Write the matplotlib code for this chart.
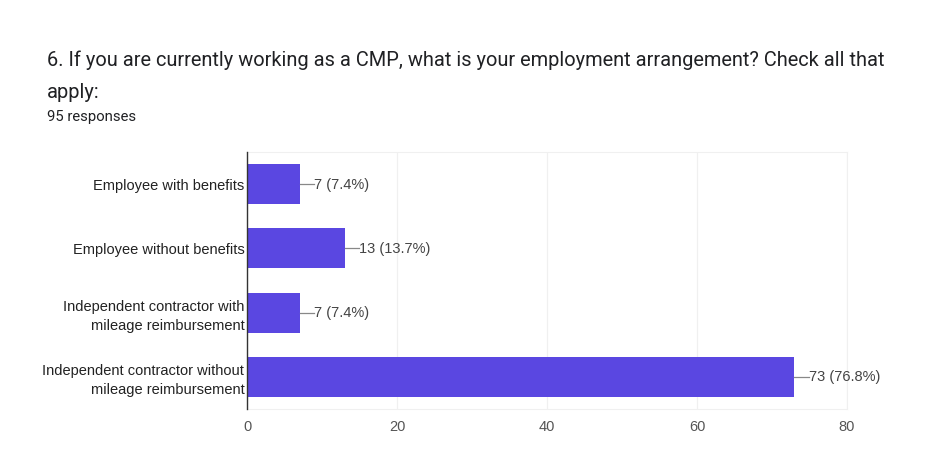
import matplotlib
matplotlib.use("Agg")
import matplotlib.pyplot as plt

plt.rcParams["font.family"] = ["Liberation Sans", "DejaVu Sans"]

# Data
categories = [
    "Employee with benefits",
    "Employee without benefits",
    "Independent contractor with\nmileage reimbursement",
    "Independent contractor without\nmileage reimbursement",
]
counts = [7, 13, 7, 73]
percents = [7.4, 13.7, 7.4, 76.8]
x_ticks = [0, 20, 40, 60, 80]
total_responses = 95

bar_color = "#5a47e1"
text_color = "#222222"

fig = plt.figure(figsize=(9.44, 4.75), dpi=100)
ax = fig.add_axes([0.2617, 0.139, 0.6355, 0.541])

y = list(range(len(categories)))
ax.barh(y, counts, height=0.62, color=bar_color, zorder=3)

# leader line + value label at end of each bar
gap = 1.9
for yi, c, p in zip(y, counts, percents):
    ax.plot([c, c + gap], [yi, yi], color="#888888", lw=0.9, zorder=4)
    ax.text(c + gap, yi + 0.01, f"{c} ({p}%)", va="center", ha="left",
            fontsize=10.5, color="#444444", zorder=4)

ax.set_xlim(0, 80)
ax.set_ylim(3.5, -0.5)
ax.set_xticks(x_ticks)
ax.set_xticklabels([str(t) for t in x_ticks], fontsize=10.5, color="#555555")
ax.set_yticks(y)
ax.set_yticklabels(categories, fontsize=10.5, color=text_color,
                   linespacing=1.45, multialignment="right")
ax.tick_params(axis="y", length=0, pad=2)
ax.tick_params(axis="x", length=0, pad=8)

ax.grid(axis="x", color="#f0f0f0", lw=0.9, zorder=0)
for side in ["top", "right", "bottom"]:
    ax.spines[side].set_color("#f0f0f0")
ax.spines["left"].set_color("#333333")
ax.spines["left"].set_linewidth(1.0)
ax.spines["left"].set_zorder(5)

title_font = ["Roboto", "DejaVu Sans"]
fig.text(47 / 944, 1 - 60 / 475,
         "6. If you are currently working as a CMP, what is your employment arrangement? Check all that",
         fontsize=14.4, color="#202124", va="center", ha="left", family=title_font)
fig.text(47 / 944, 1 - 93 / 475, "apply:",
         fontsize=14.4, color="#202124", va="center", ha="left", family=title_font)
fig.text(47 / 944, 1 - 117 / 475, f"{total_responses} responses",
         fontsize=10.7, color="#202124", va="center", ha="left", family=title_font)

fig.savefig("out.png", dpi=100, facecolor="white")
